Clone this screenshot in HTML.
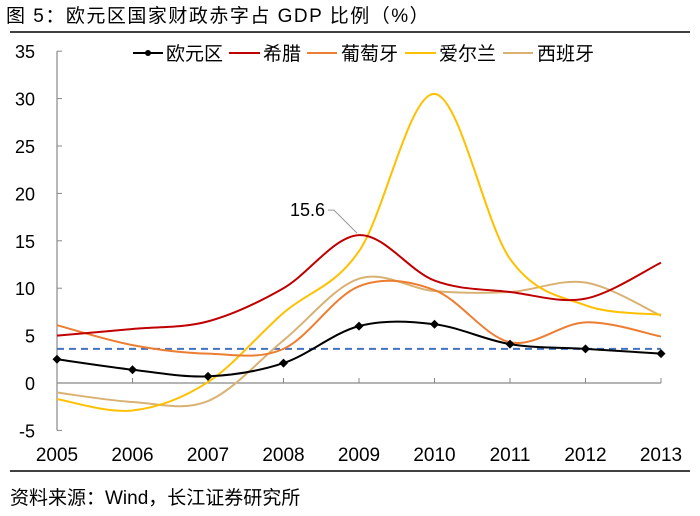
<!DOCTYPE html>
<html><head><meta charset="utf-8"><style>
body{margin:0;background:#fff;}
svg text{font-family:"Liberation Sans","Noto Sans CJK SC",sans-serif;}
</style></head><body>
<svg id="c" width="700" height="511" xmlns="http://www.w3.org/2000/svg">
<text x="6" y="22" font-size="19" letter-spacing="1.5" fill="#000">图 5：欧元区国家财政赤字占 GDP 比例（%）</text>
<line x1="10" y1="32" x2="690" y2="32" stroke="#000" stroke-width="1.5"/>
<line x1="10" y1="471" x2="690" y2="471" stroke="#000" stroke-width="1.5"/>
<text x="10" y="504" font-size="19" fill="#000">资料来源：Wind，长江证券研究所</text>
<g id="axes"></g><g id="series"></g>
<g>
<line x1="133" y1="53" x2="163" y2="53" stroke="#000" stroke-width="2"/><circle cx="148" cy="53" r="3" fill="#000"/>
<text x="166" y="60" font-size="19">欧元区</text>
<line x1="229" y1="53" x2="260" y2="53" stroke="#c00000" stroke-width="2"/>
<text x="263" y="60" font-size="19">希腊</text>
<line x1="307" y1="53" x2="337" y2="53" stroke="#ed7d31" stroke-width="2"/>
<text x="341" y="60" font-size="19">葡萄牙</text>
<line x1="405" y1="53" x2="436" y2="53" stroke="#ffc000" stroke-width="2"/>
<text x="439" y="60" font-size="19">爱尔兰</text>
<line x1="503" y1="53" x2="533" y2="53" stroke="#d9b273" stroke-width="2"/>
<text x="537" y="60" font-size="19">西班牙</text>
</g>
</svg>
<script>
const years=["2005","2006","2007","2008","2009","2010","2011","2012","2013"];
const yTicks=[-5,0,5,10,15,20,25,30,35];
const euro=[2.5,1.4,0.7,2.1,6.0,6.2,4.1,3.6,3.1];
const greece=[5.0,5.7,6.5,10.0,15.6,10.8,9.6,8.9,12.7];
const portugal=[6.1,4.0,3.1,3.6,10.2,9.8,4.3,6.4,4.9];
const ireland=[-1.7,-2.9,0.1,7.4,13.9,30.5,13.1,8.2,7.2];
const spain=[-1.0,-2.0,-1.9,4.5,11.0,9.7,9.6,10.6,7.1];
const refLevel=3.6;
const NS="http://www.w3.org/2000/svg";
const X=i=>57+i*75.5;
const Y=v=>383-v*9.48;
function mk(t,a,p){const e=document.createElementNS(NS,t);for(const k in a)e.setAttribute(k,a[k]);p.appendChild(e);return e;}
const ax=document.getElementById('axes');
let yl=mk('line',{x1:57,y1:Y(-5),x2:57,y2:Y(35),stroke:'#888','stroke-width':1.2},ax);


yTicks.forEach(v=>{
 mk('line',{x1:57,y1:Y(v),x2:62,y2:Y(v),stroke:'#888'},ax);
 const t=mk('text',{x:35,y:Y(v)+7,'font-size':18,'text-anchor':'end'},ax);t.textContent=v;
 
 
});
let xl=mk('line',{x1:57,y1:Y(0),x2:X(8),y2:Y(0),stroke:'#888','stroke-width':1.2},ax);


years.forEach((y,i)=>{
 mk('line',{x1:X(i),y1:Y(0),x2:X(i),y2:Y(0)-5,stroke:'#888'},ax);
 const t=mk('text',{x:X(i),y:461,'font-size':19,'text-anchor':'middle'},ax);t.textContent=y;
 
 
});
const sg=document.getElementById('series');
let rl=mk('line',{x1:57,y1:Y(refLevel),x2:X(8),y2:Y(refLevel),stroke:'#4472c4','stroke-width':2,'stroke-dasharray':'7,5'},sg);


function path(vals){
 const p=vals.map((v,i)=>[X(i),Y(v)]);let d='M'+p[0];
 for(let i=0;i<p.length-1;i++){
  const p0=p[i-1]||p[i],p1=p[i],p2=p[i+1],p3=p[i+2]||p[i+1];
  const c1=[p1[0]+(p2[0]-p0[0])/6,p1[1]+(p2[1]-p0[1])/6];
  const c2=[p2[0]-(p3[0]-p1[0])/6,p2[1]-(p3[1]-p1[1])/6];
  d+=' C'+c1+' '+c2+' '+p2;
 }return d;}
function draw(vals,col,name){
 const e=mk('path',{d:path(vals),fill:'none',stroke:col,'stroke-width':2},sg);
 
 
}
draw(spain,'#d9b273','series-spain');
draw(ireland,'#ffc000','series-ireland');
draw(portugal,'#ed7d31','series-portugal');
draw(greece,'#c00000','series-greece');
draw(euro,'#000','series-euro');
euro.forEach((v,i)=>{
 const m=mk('path',{d:`M${X(i)},${Y(v)-4.5}l4.5,4.5l-4.5,4.5l-4.5,-4.5z`,fill:'#000'},sg);
 
 
});
const lx=X(4),ly=Y(greece[4]);
mk('polyline',{points:`${lx-2},${ly-2} ${lx-25},${ly-25} ${lx-31},${ly-25}`,fill:'none',stroke:'#999','stroke-width':1},sg);
const lt=mk('text',{x:lx-34,y:ly-19,'font-size':18,'text-anchor':'end'},sg);lt.textContent=greece[4];


</script>
</body></html>
